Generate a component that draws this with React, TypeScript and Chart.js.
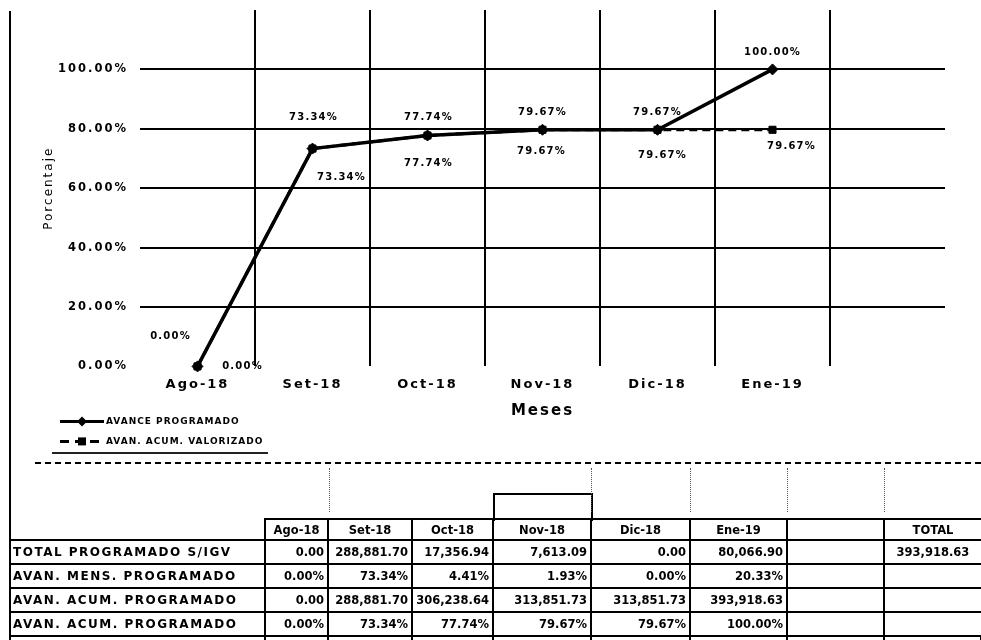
import React, { useEffect, useRef } from 'react';
import { Chart, registerables } from 'chart.js';

Chart.register(...registerables);

// ---------- data ----------
const months = ['Ago-18', 'Set-18', 'Oct-18', 'Nov-18', 'Dic-18', 'Ene-19'];
const axisLabels = [...months, ''];
const avanceProgramado = [0, 73.34, 77.74, 79.67, 79.67, 100];
const avanAcumValorizado = [0, 73.34, 77.74, 79.67, 79.67, 79.67];
const yTicks = [0, 20, 40, 60, 80, 100];
const yMax = 120;

const totalProgramado = [0, 288881.7, 17356.94, 7613.09, 0, 80066.9];
const avanMensProgramado = [0, 73.34, 4.41, 1.93, 0, 20.33];
const avanAcumProgramado = [0, 288881.7, 306238.64, 313851.73, 313851.73, 393918.63];
const avanAcumProgramadoPct = [0, 73.34, 77.74, 79.67, 79.67, 100];
const totalGeneral = 393918.63;

const seriesNames = ['AVANCE PROGRAMADO', 'AVAN. ACUM. VALORIZADO'];
const rowNames = ['TOTAL PROGRAMADO S/IGV', 'AVAN. MENS. PROGRAMADO', 'AVAN. ACUM. PROGRAMADO', 'AVAN. ACUM. PROGRAMADO'];

// ---------- style (label placement offsets relative to each point) ----------
const labelOffsets = [
  [[-27, -30], [1, -31], [1, -18], [0, -17], [0, -17], [0, -17]],
  [[45, 0], [29, 29], [1, 28], [-1, 22], [5, 26], [19, 17]],
];

const FONT = '"DejaVu Sans", Verdana, sans-serif';

const fmtNum = (v: number) => v.toLocaleString('en-US', { minimumFractionDigits: 2, maximumFractionDigits: 2 });
const fmtPct = (v: number) => v.toFixed(2) + '%';

const spacingPlugin = {
  id: 'spacing',
  beforeDraw(chart: any) {
    chart.ctx.letterSpacing = '2px';
  },
};

const dataLabelPlugin = {
  id: 'dataLabels',
  afterDatasetsDraw(chart: any) {
    const ctx = chart.ctx;
    ctx.save();
    ctx.letterSpacing = '1.2px';
    ctx.font = `bold 10px ${FONT}`;
    ctx.fillStyle = '#000';
    ctx.textAlign = 'center';
    ctx.textBaseline = 'middle';
    chart.data.datasets.forEach((ds: any, i: number) => {
      const meta = chart.getDatasetMeta(i);
      meta.data.forEach((pt: any, j: number) => {
        const v = ds.data[j];
        const off = labelOffsets[i][j];
        ctx.fillText(fmtPct(v), pt.x + off[0], pt.y + off[1]);
      });
    });
    ctx.restore();
  },
};

const legendPlugin = {
  id: 'customLegend',
  afterDraw(chart: any) {
    const ctx = chart.ctx;
    const base = chart.chartArea.bottom + 55;
    ctx.save();
    chart.data.datasets.forEach((ds: any, i: number) => {
      const y = base + i * 20;
      ctx.strokeStyle = '#000';
      ctx.fillStyle = '#000';
      ctx.lineWidth = 3;
      ctx.setLineDash(i === 1 ? [9, 6] : []);
      ctx.beginPath();
      ctx.moveTo(60, y);
      ctx.lineTo(104, y);
      ctx.stroke();
      ctx.setLineDash([]);
      const mx = 82;
      ctx.beginPath();
      if (i === 0) {
        ctx.moveTo(mx, y - 5);
        ctx.lineTo(mx + 5, y);
        ctx.lineTo(mx, y + 5);
        ctx.lineTo(mx - 5, y);
        ctx.closePath();
      } else {
        ctx.rect(mx - 4, y - 4, 8, 8);
      }
      ctx.fill();
      ctx.letterSpacing = '1px';
      ctx.font = `bold 9px ${FONT}`;
      ctx.textBaseline = 'middle';
      ctx.textAlign = 'left';
      ctx.fillText(ds.label, 106, y);
    });
    ctx.restore();
  },
};

const cellBase: React.CSSProperties = {
  border: '2px solid #000',
  padding: '0 3px',
  fontFamily: FONT,
  fontWeight: 'bold',
  fontSize: 11.5,
  color: '#000',
  whiteSpace: 'nowrap',
  overflow: 'hidden',
  textAlign: 'right',
};

export default function App() {
  const ref = useRef<HTMLCanvasElement>(null);

  useEffect(() => {
    const chart = new Chart(ref.current as HTMLCanvasElement, {
      type: 'line',
      data: {
        labels: axisLabels,
        datasets: [
          {
            label: seriesNames[0],
            data: avanceProgramado,
            borderColor: '#000',
            backgroundColor: '#000',
            borderWidth: 3.5,
            pointStyle: 'rectRot',
            pointRadius: 5.5,
            pointBorderWidth: 1,
            tension: 0,
            clip: false,
            order: 0,
          },
          {
            label: seriesNames[1],
            data: avanAcumValorizado,
            borderColor: '#000',
            backgroundColor: '#000',
            borderWidth: 3,
            borderDash: [8, 5],
            pointStyle: 'rect',
            pointRadius: 5,
            pointBorderWidth: 1,
            tension: 0,
            clip: false,
            order: 1,
          },
        ],
      },
      options: {
        responsive: false,
        animation: false,
        devicePixelRatio: 1,
        layout: { padding: { left: 38, right: 36, top: 10, bottom: 38 } },
        plugins: { legend: { display: false }, tooltip: { enabled: false } },
        scales: {
          x: {
            offset: true,
            grid: {
              offset: true,
              drawTicks: false,
              lineWidth: 2,
              color: (c: any) => (c.type === 'tick' && c.index > 0 ? '#000' : 'rgba(0,0,0,0)'),
            },
            border: { display: false },
            ticks: { padding: 10, color: '#000', font: { family: FONT, size: 13, weight: 'bold' } },
            title: {
              display: true,
              text: 'Meses',
              color: '#000',
              font: { family: FONT, size: 15, weight: 'bold' },
              padding: { top: 0, bottom: 2 },
            },
          },
          y: {
            min: 0,
            max: yMax,
            ticks: {
              stepSize: 20,
              padding: 12,
              color: '#000',
              font: { family: FONT, size: 11.5, weight: 'bold' },
              callback: (v: any) => (yTicks.includes(Number(v)) ? fmtPct(Number(v)) : ''),
            },
            grid: {
              drawTicks: false,
              lineWidth: 2,
              color: (c: any) =>
                c.tick && c.tick.value > 0 && c.tick.value < yMax ? '#000' : 'rgba(0,0,0,0)',
            },
            border: { display: false },
            title: {
              display: true,
              text: 'Porcentaje',
              color: '#000',
              font: { family: FONT, size: 12 },
            },
            afterFit: (s: any) => {
              s.width = 102;
              s.paddingTop = 0;
              s.paddingBottom = 0;
            },
          },
        },
      } as any,
      plugins: [spacingPlugin, dataLabelPlugin, legendPlugin],
    });
    return () => chart.destroy();
  }, []);

  const rows = [
    { label: rowNames[0], values: totalProgramado.map(fmtNum), total: fmtNum(totalGeneral) },
    { label: rowNames[1], values: avanMensProgramado.map(fmtPct), total: '' },
    { label: rowNames[2], values: avanAcumProgramado.map(fmtNum), total: '' },
    { label: rowNames[3], values: avanAcumProgramadoPct.map(fmtPct), total: '' },
  ];
  const colWidths = [255, 63, 84, 81, 98, 99, 97, 97, 97];

  return (
    <div
      style={{
        position: 'fixed',
        left: 0,
        top: 0,
        width: 981,
        height: 640,
        overflow: 'hidden',
        background: '#fff',
        fontFamily: FONT,
      }}
    >
      <canvas ref={ref} width={981} height={460} style={{ position: 'absolute', left: 0, top: 0 }} />
      <div style={{ position: 'absolute', left: 9, top: 11, width: 2, height: 629, background: '#000' }} />
      <div style={{ position: 'absolute', left: 52, top: 452, width: 216, height: 2, background: '#222' }} />
      <div style={{ position: 'absolute', left: 35, top: 462, width: 946, borderTop: '2px dashed #000' }} />
      <div
        style={{
          position: 'absolute',
          left: 493,
          top: 493,
          width: 96,
          height: 26,
          border: '2px solid #000',
          borderBottom: 'none',
        }}
      />
      {[329, 591, 690, 787, 884].map((x, i) => (
        <div
          key={i}
          style={{ position: 'absolute', left: x, top: 468, height: 44, borderLeft: '1px dotted #555' }}
        />
      ))}
      <table
        style={{
          position: 'absolute',
          left: 10,
          top: 518,
          borderCollapse: 'collapse',
          tableLayout: 'fixed',
          width: 971,
        }}
      >
        <colgroup>
          {colWidths.map((w, i) => (
            <col key={i} style={{ width: w }} />
          ))}
        </colgroup>
        <tbody>
          <tr style={{ height: 21 }}>
            <td style={{ ...cellBase, borderTop: 'none', borderLeft: 'none' }} />
            {months.map((m) => (
              <td key={m} style={{ ...cellBase, textAlign: 'center' }}>
                {m}
              </td>
            ))}
            <td style={cellBase} />
            <td style={{ ...cellBase, textAlign: 'center', borderRight: 'none' }}>TOTAL</td>
          </tr>
          {rows.map((r, ri) => (
            <tr key={ri} style={{ height: 24 }}>
              <td
                style={{
                  ...cellBase,
                  borderLeft: 'none',
                  textAlign: 'left',
                  fontSize: 12,
                  letterSpacing: '1.5px',
                }}
              >
                {r.label}
              </td>
              {r.values.map((v, vi) => (
                <td key={vi} style={cellBase}>
                  {v}
                </td>
              ))}
              <td style={cellBase} />
              <td style={{ ...cellBase, textAlign: 'center', borderRight: 'none' }}>{r.total}</td>
            </tr>
          ))}
          <tr style={{ height: 24 }}>
            {colWidths.map((_, i) => (
              <td key={i} style={{ ...cellBase, borderLeft: i === 0 ? 'none' : cellBase.border }} />
            ))}
          </tr>
        </tbody>
      </table>
    </div>
  );
}
